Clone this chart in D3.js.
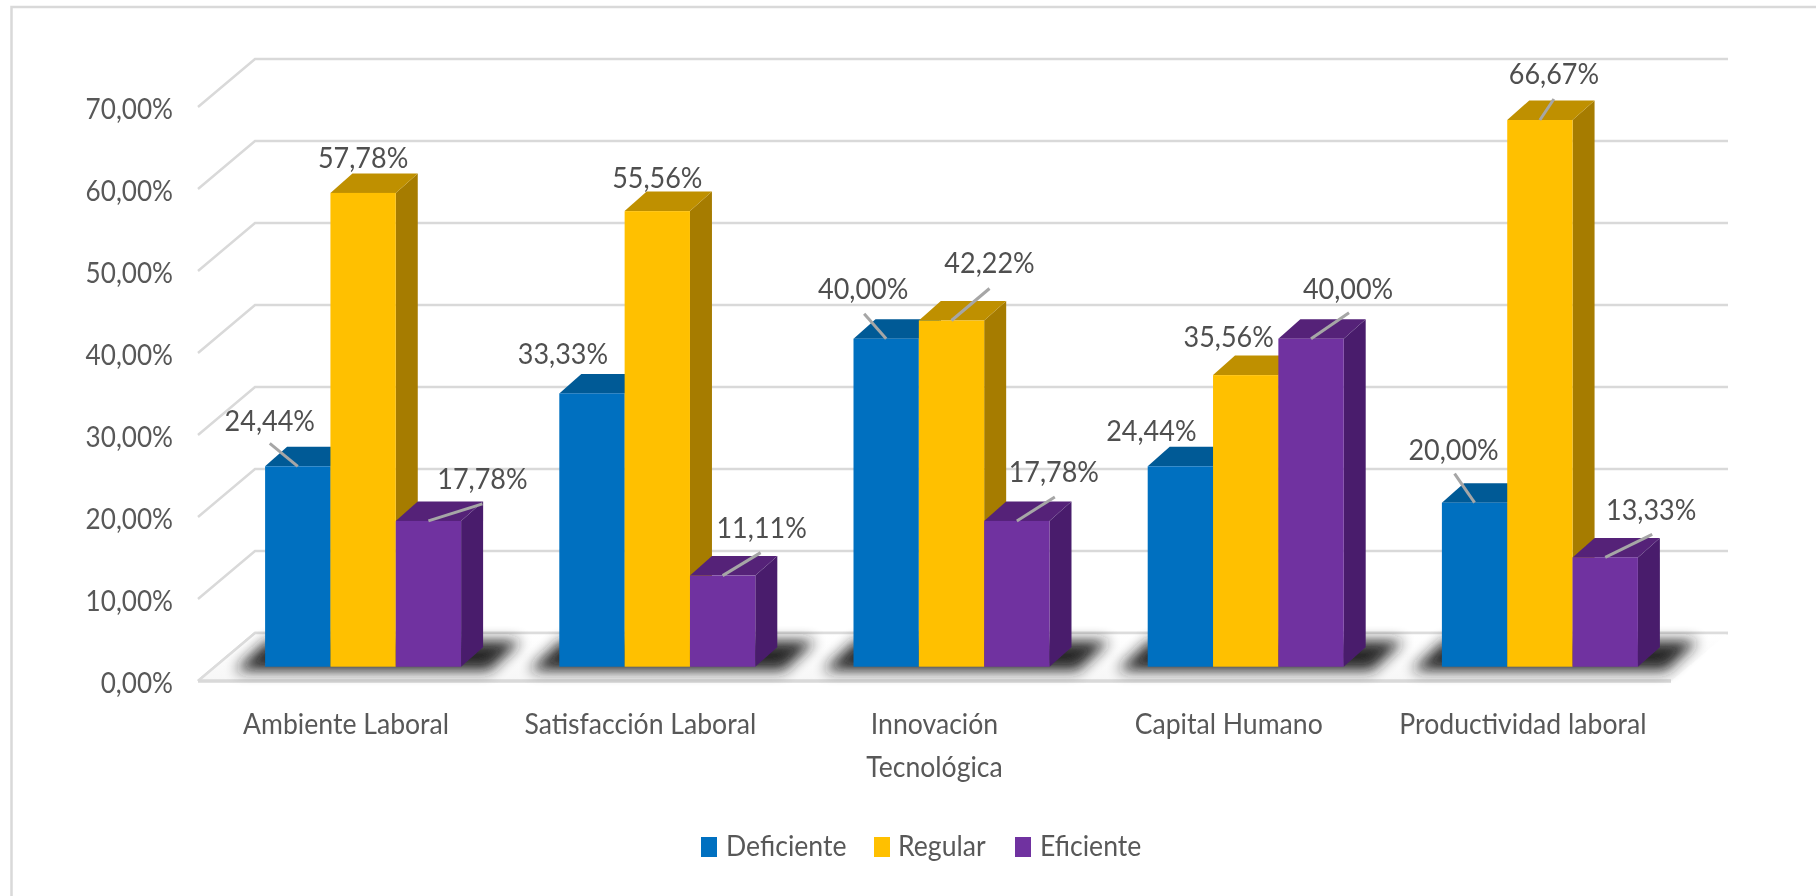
<!DOCTYPE html>
<html lang="es"><head><meta charset="utf-8">
<script src="https://cdnjs.cloudflare.com/ajax/libs/d3/7.8.5/d3.min.js"></script>
<style>
html,body{margin:0;padding:0;background:#fff;overflow:hidden}
svg{display:block}
text{font-family:Lato,"Open Sans",sans-serif;fill:#595959}
</style></head><body>
<script>
// ---- data ----
const categories = ["Ambiente Laboral","Satisfacción Laboral","Innovación Tecnológica","Capital Humano","Productividad laboral"];
const seriesNames = ["Deficiente","Regular","Eficiente"];
const deficiente = [24.44,33.33,40.00,24.44,20.00];
const regular    = [57.78,55.56,42.22,35.56,66.67];
const eficiente  = [17.78,11.11,17.78,40.00,13.33];
const axisTicks  = [0,10,20,30,40,50,60,70];

// ---- label placement relative to the bar top (separate from the values) ----
const labelOffsets = [
  [[-28,-45],[-29,-39],[-23,-50],[-29,-35],[-21,-53]],
  [[0,-35],[0,-33],[38,-57],[-17,-38],[14,-46]],
  [[54,-42],[39,-48],[37,-49],[37,-50],[46,-47]]
];
const leaderEnds = [
  [[-28,-23],null,[-22,-25],null,[-20,-29]],
  [null,null,[38,-32],null,[14,-21]],
  [[54,-17],[38,-23],[38,-24],[38,-26],[47,-23]]
];

// ---- style ----
const palette = [
  {front:"#0070C0",top:"#005A96",side:"#00497C"},
  {front:"#FFC000",top:"#BF9000",side:"#A67C00"},
  {front:"#7030A0",top:"#542478",side:"#481F6C"}
];
const W=1816,H=896;
const depth={x:57,y:48};           // full floor depth
const barDepth={x:22,y:19.5};      // bar depth
const barInset={x:18,y:14.3};      // bar front plane, measured from the chart front
const floorRight=1671;
const yFront=d3.scaleLinear().domain([0,70]).range([681,107]);
const yBar=v=>yFront(v)-barInset.y;
const x0=d3.scaleBand().domain(categories).range([198,1669]);
const groupW=196;
const x1=d3.scaleBand().domain(seriesNames).range([0,groupW]);
const xBar=(c,s)=>x0(c)+(x0.bandwidth()-groupW)/2+barInset.x+x1(s);
const locale=d3.formatLocale({decimal:",",thousands:".",grouping:[3],currency:["","%"]});
const pct=v=>locale.format(".2f")(v)+"%";
const FS=29;
const squeeze=k=>sel=>sel.each(function(){
  const l=this.getComputedTextLength();
  d3.select(this).attr("textLength",l*k).attr("lengthAdjust","spacingAndGlyphs");
});

const svg=d3.select("body").append("svg").attr("width",W).attr("height",H);
const defs=svg.append("defs");
defs.append("filter").attr("id","soft").attr("x","-2%").attr("y","-2%").attr("width","104%").attr("height","104%")
  .append("feGaussianBlur").attr("stdDeviation",0.55);
defs.append("filter").attr("id","shadow").attr("x","-20%").attr("y","-80%").attr("width","140%").attr("height","260%")
  .append("feGaussianBlur").attr("stdDeviation",7);
const gf=defs.append("linearGradient").attr("id","floorFill").attr("x1",0).attr("x2",0).attr("y1",0).attr("y2",1);
gf.append("stop").attr("offset",0).attr("stop-color","#ffffff");
gf.append("stop").attr("offset",1).attr("stop-color","#f7f7f7");
svg.append("rect").attr("width",W).attr("height",H).attr("fill","#fff");
const root=svg.append("g").attr("filter","url(#soft)");

// frame (top and left only)
root.append("path").attr("d",`M11.5,${H}V7H${W}`).attr("fill","none").attr("stroke","#d9d9d9").attr("stroke-width",2.5);

// walls
const xL=x0.range()[0];
root.append("g").selectAll("path").data(axisTicks).join("path")
  .attr("d",d=>`M${xL},${yFront(d)}L${xL+depth.x},${yFront(d)-depth.y}H${floorRight+depth.x}`)
  .attr("fill","none").attr("stroke","#d9d9d9").attr("stroke-width",2.5);

// floor
root.append("path")
  .attr("d",`M${xL},${yFront(0)}L${xL+depth.x},${yFront(0)-depth.y}H${floorRight+depth.x}L${floorRight},${yFront(0)}Z`)
  .attr("fill","url(#floorFill)");
root.append("path").attr("d",`M${xL},${yFront(0)}L${xL+depth.x},${yFront(0)-depth.y}H${floorRight+depth.x}`)
  .attr("fill","none").attr("stroke","#dcdcdc").attr("stroke-width",2.5);
root.append("line").attr("x1",xL).attr("x2",floorRight).attr("y1",yFront(0)).attr("y2",yFront(0))
  .attr("stroke","#d9d9d9").attr("stroke-width",3.5);

// floor shadows
root.append("g").selectAll("path").data(categories).join("path")
  .attr("d",c=>{
    const g=xBar(c,seriesNames[0]), t=yBar(0)-26, b=yBar(0)+4;
    return `M${g-30},${b}L${g+2},${t}H${g+256}L${g+224},${b}Z`;
  }).attr("fill","#1a1a1a").attr("opacity",.95).attr("filter","url(#shadow)");

// bars
const allValues=[deficiente,regular,eficiente];
const bw=x1.bandwidth();
categories.forEach((c,ci)=>{
  const g=root.append("g");
  seriesNames.forEach((s,si)=>{
    const v=allValues[si][ci], x=xBar(c,s), y=yBar(v), y0=yBar(0), col=palette[si];
    g.append("path").attr("fill",col.side)
      .attr("d",`M${x+bw},${y}l${barDepth.x},${-barDepth.y}V${y0-barDepth.y}L${x+bw},${y0}Z`);
    g.append("path").attr("fill",col.top)
      .attr("d",`M${x},${y}l${barDepth.x},${-barDepth.y}h${bw}l${-barDepth.x},${barDepth.y}Z`);
    g.append("rect").attr("x",x).attr("y",y).attr("width",bw).attr("height",y0-y).attr("fill",col.front);
  });
});

// leader lines and data labels
seriesNames.forEach((s,si)=>categories.forEach((c,ci)=>{
  const v=allValues[si][ci], ax=xBar(c,s)+bw/2, ay=yBar(v), e=leaderEnds[si][ci], o=labelOffsets[si][ci];
  if(e) root.append("line").attr("x1",ax).attr("y1",ay).attr("x2",ax+e[0]).attr("y2",ay+e[1])
    .attr("stroke","#a6a6a6").attr("stroke-width",3);
  root.append("text").attr("x",ax+o[0]).attr("y",ay+o[1]+10).attr("text-anchor","middle")
    .attr("font-size",FS).style("fill","#505050").text(pct(v)).call(squeeze(0.93));
}));

// value axis
const axG=root.append("g").attr("transform","translate(173,0)")
  .call(d3.axisLeft(yFront).tickValues(axisTicks).tickSize(0).tickPadding(0).tickFormat(pct));
axG.select(".domain").remove();
axG.selectAll("text").attr("font-size",FS).attr("font-family",null).attr("dy",null).attr("y",11).style("font-family","Lato").call(squeeze(0.9));

// category labels
const catLines={"Innovación Tecnológica":["Innovación","Tecnológica"]};
categories.forEach(c=>{
  (catLines[c]||[c]).forEach((ln,i)=>{
    root.append("text").attr("x",x0(c)+x0.bandwidth()/2+1).attr("y",734+i*43).attr("text-anchor","middle")
      .attr("font-size",FS-1).text(ln).call(squeeze(0.95));
  });
});

// legend
const legendX=[701,874,1015], legendTextX=[726,898,1040];
seriesNames.forEach((s,i)=>{
  root.append("rect").attr("x",legendX[i]).attr("y",837).attr("width",16).attr("height",20).attr("fill",palette[i].front);
  root.append("text").attr("x",legendTextX[i]).attr("y",856).attr("font-size",FS-1).text(s).call(squeeze(0.95));
});
</script>
</body></html>
